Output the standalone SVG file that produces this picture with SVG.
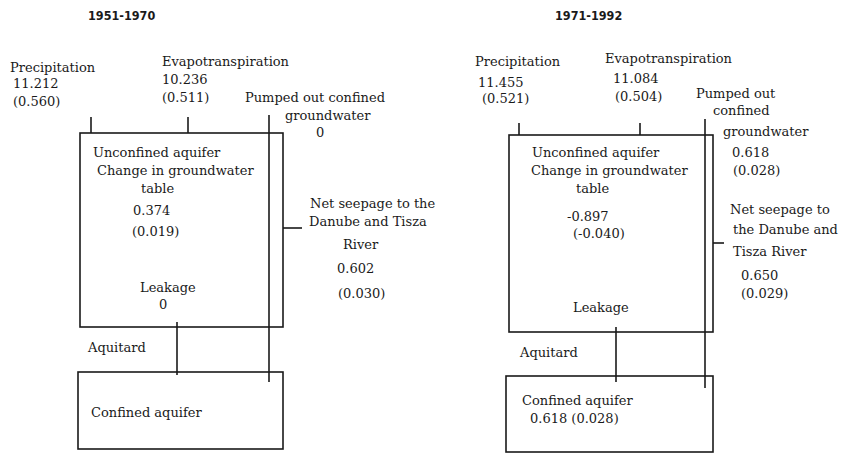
<svg xmlns="http://www.w3.org/2000/svg" width="845" height="454" viewBox="0 0 845 454">
<style>
text{font-family:"DejaVu Serif","Liberation Serif",serif;font-size:13px;fill:#1a1a1a}
.title{font-family:"DejaVu Sans","Liberation Sans",sans-serif;font-stretch:condensed;font-weight:bold;font-size:12.5px}
.box{fill:none;stroke:#1a1a1a;stroke-width:1.6}
.ln{stroke:#1a1a1a;stroke-width:1.6;fill:none}
</style>
<rect width="845" height="454" fill="#fff"/>

<!-- Left panel: 1951-1970 -->
<g id="title-left"><text class="title" x="88" y="20">1951-1970</text></g>
<g id="precip-left"><text x="10" y="72">Precipitation</text><text x="13" y="88">11.212</text><text x="13" y="106">(0.560)</text></g>
<g id="evap-left"><text x="162" y="66">Evapotranspiration</text><text x="162" y="84">10.236</text><text x="162" y="102">(0.511)</text></g>
<g id="pumped-left"><text x="245" y="102">Pumped out confined</text><text x="285" y="120">groundwater</text><text x="316" y="137">0</text></g>
<g id="unconfined-left">
<rect class="box" x="80" y="133" width="203" height="194"/>
<text x="93" y="157">Unconfined aquifer</text>
<text x="97" y="175">Change in groundwater</text>
<text x="141" y="193">table</text>
<text x="133" y="215">0.374</text>
<text x="132" y="236">(0.019)</text>
<text x="140" y="292">Leakage</text>
<text x="159" y="309">0</text>
</g>
<g id="seepage-left"><text x="310" y="208">Net seepage to the</text><text x="309" y="226">Danube and Tisza</text><text x="343" y="249">River</text><text x="337" y="273">0.602</text><text x="338" y="298">(0.030)</text></g>
<g id="aquitard-left"><text x="88" y="352">Aquitard</text></g>
<g id="confined-left">
<rect class="box" x="78" y="372" width="205" height="77"/>
<text x="91" y="417">Confined aquifer</text>
</g>

<!-- Right panel: 1971-1992 -->
<g id="title-right"><text class="title" x="555" y="20">1971-1992</text></g>
<g id="precip-right"><text x="475" y="66">Precipitation</text><text x="478" y="87">11.455</text><text x="482" y="103">(0.521)</text></g>
<g id="evap-right"><text x="605" y="63">Evapotranspiration</text><text x="613" y="83">11.084</text><text x="615" y="101">(0.504)</text></g>
<g id="pumped-right"><text x="696" y="98">Pumped out</text><text x="713" y="115">confined</text><text x="723" y="136">groundwater</text><text x="732" y="157">0.618</text><text x="733" y="175">(0.028)</text></g>
<g id="unconfined-right">
<rect class="box" x="509" y="135" width="204" height="197"/>
<text x="532" y="157">Unconfined aquifer</text>
<text x="531" y="175">Change in groundwater</text>
<text x="576" y="193">table</text>
<text x="567" y="221">-0.897</text>
<text x="573" y="238">(-0.040)</text>
<text x="573" y="312">Leakage</text>
</g>
<g id="seepage-right"><text x="730" y="214">Net seepage to</text><text x="733" y="234">the Danube and</text><text x="733" y="256">Tisza River</text><text x="741" y="280">0.650</text><text x="741" y="298">(0.029)</text></g>
<g id="aquitard-right"><text x="520" y="357">Aquitard</text></g>
<g id="confined-right">
<rect class="box" x="506" y="376" width="207" height="76"/>
<text x="522" y="405">Confined aquifer</text>
<text x="530" y="423">0.618 (0.028)</text>
</g>

<g id="connectors">
<line class="ln" x1="91" y1="117" x2="91" y2="133"/>
<line class="ln" x1="188" y1="117" x2="188" y2="133"/>
<line class="ln" x1="269" y1="115" x2="269" y2="382"/>
<line class="ln" x1="283" y1="228" x2="302" y2="228"/>
<line class="ln" x1="177" y1="322" x2="177" y2="375"/>
<line class="ln" x1="519" y1="123" x2="519" y2="135"/>
<line class="ln" x1="640" y1="123" x2="640" y2="135"/>
<line class="ln" x1="705" y1="119" x2="705" y2="388"/>
<line class="ln" x1="713" y1="243" x2="724" y2="243"/>
<line class="ln" x1="616" y1="327" x2="616" y2="382"/>
</g>
</svg>
